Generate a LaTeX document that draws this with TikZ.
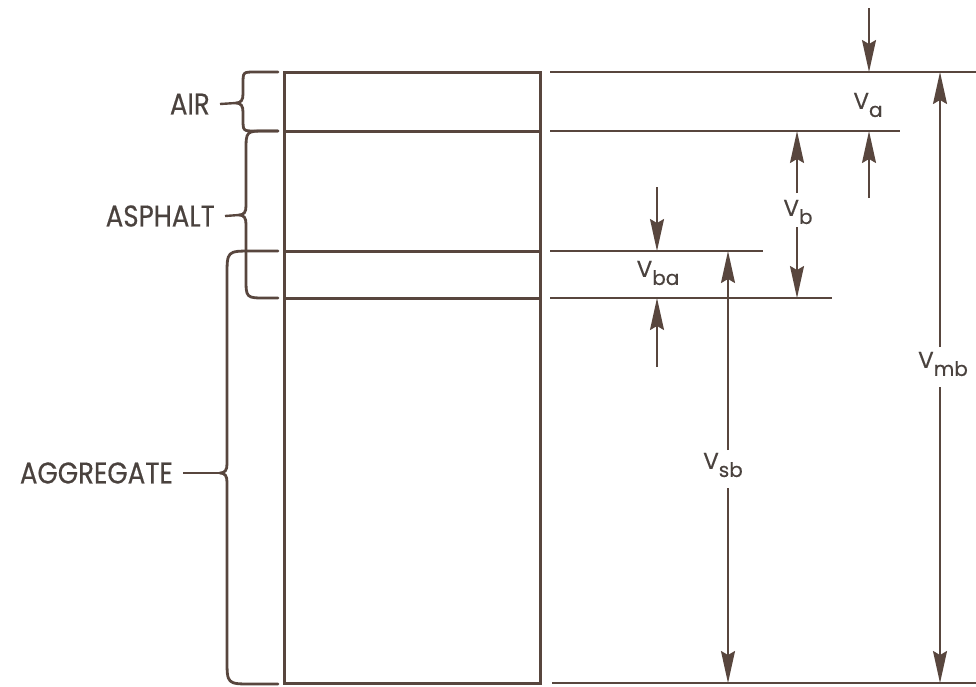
\documentclass[tikz,border=0pt]{standalone}
\usepackage{fontspec}
\setmainfont{Poppins}[FakeBold=0.4]
\newfontfamily\labfont{Poppins}[FakeBold=0.4, FakeStretch=0.87]
\usetikzlibrary{arrows.meta}
\definecolor{ink}{RGB}{88,70,62}
\definecolor{txt}{RGB}{74,66,62}
\newcommand{\vsub}[1]{V\raisebox{-8pt}{\fontsize{20}{20}\selectfont #1}}
\newcommand{\brc}[5]{%
  \draw[brace] (278,#2) -- ({#1+#5},#2) .. controls (#1,#2) .. (#1,{#2+#5})
    -- (#1,{#4-9}) .. controls (#1,{#4-3}) and ({#1-2},#4) .. ({#1-7},#4)
    .. controls ({#1-2},#4) and (#1,{#4+3}) .. (#1,{#4+9})
    -- (#1,{#3-#5}) .. controls (#1,#3) .. ({#1+#5},#3) -- (278,#3);}
\begin{document}
\begin{tikzpicture}[x=1pt,y=-1pt,
  box/.style={draw=ink, line width=3pt},
  ext/.style={draw=ink, line width=1.3pt},
  brace/.style={draw=ink, line width=2.8pt, line cap=round, line join=round},
  tickline/.style={draw=ink, line width=2.4pt},
  dim/.style={draw=ink, line width=1.9pt, -{Stealth[length=32pt,width=14pt,inset=4pt]}},
  lab/.style={text=txt, font=\labfont\fontsize{30}{30}\selectfont, inner xsep=10pt, inner ysep=0pt, anchor=east},
  vl/.style={text=txt, font=\fontsize{23}{23}\selectfont, inner sep=0pt}]
\useasboundingbox (0,0) rectangle (976,686);

% box with layers
\coordinate (bTL) at (284,72);
\coordinate (bBR) at (540,683);
\draw[box] (bTL) rectangle (bBR);
\draw[box] (284,131) -- (540,131);
\draw[box] (284,251) -- (540,251);
\draw[box] (284,298) -- (540,298);

% extension lines
\draw[ext] (550,72) -- (976,72);
\draw[ext] (550,131) -- (900,131);
\draw[ext] (550,251) -- (763,251);
\draw[ext] (550,298) -- (832,298);
\draw[ext] (552,683) -- (976,683);

% braces
\brc{243}{72}{131}{103}{12}
\brc{246}{131}{298}{215}{20}
\brc{227}{251}{684}{473}{25}
\coordinate (airtip) at (236,103);
\coordinate (asptip) at (239,215);
\coordinate (aggtip) at (220,473);

\node[lab] (air) at (220,104) {AIR};
\node[lab] (asp) at (225,216) {ASPHALT};
\node[lab] (agg) at (183,473) {AGGREGATE};
\draw[tickline] (air.east) -- (airtip);
\draw[tickline] (asp.east) -- (asptip);
\draw[tickline] (agg.east) -- (aggtip);

% V_a
\node[vl] (va) at (868,105) {\vsub{a}};
\coordinate (vaA) at (869,8);   \coordinate (vaAt) at (869,72);
\coordinate (vaB) at (869,198); \coordinate (vaBt) at (869,131);
\draw[dim] (vaA) -- (vaAt);
\draw[dim] (vaB) -- (vaBt);

% V_b
\node[vl] (vb) at (798,212) {\vsub{b}};
\coordinate (vbA) at (797,193); \coordinate (vbAt) at (797,131);
\coordinate (vbB) at (797,227); \coordinate (vbBt) at (797,298);
\draw[dim] (vbA) -- (vbAt);
\draw[dim] (vbB) -- (vbBt);

% V_ba
\node[vl] (vba) at (658,273) {\vsub{ba}};
\coordinate (vbaA) at (657,187); \coordinate (vbaAt) at (657,251);
\coordinate (vbaB) at (657,367); \coordinate (vbaBt) at (657,298);
\draw[dim] (vbaA) -- (vbaAt);
\draw[dim] (vbaB) -- (vbaBt);

% V_sb
\node[vl] (vsb) at (723,465) {\vsub{sb}};
\coordinate (vsbA) at (728,450); \coordinate (vsbAt) at (728,251);
\coordinate (vsbB) at (728,488); \coordinate (vsbBt) at (728,683);
\draw[dim] (vsbA) -- (vsbAt);
\draw[dim] (vsbB) -- (vsbBt);

% V_mb
\node[vl] (vmb) at (943,364) {\vsub{mb}};
\coordinate (vmbA) at (940,347); \coordinate (vmbAt) at (940,72);
\coordinate (vmbB) at (940,387); \coordinate (vmbBt) at (940,683);
\draw[dim] (vmbA) -- (vmbAt);
\draw[dim] (vmbB) -- (vmbBt);
\end{tikzpicture}
\end{document}
